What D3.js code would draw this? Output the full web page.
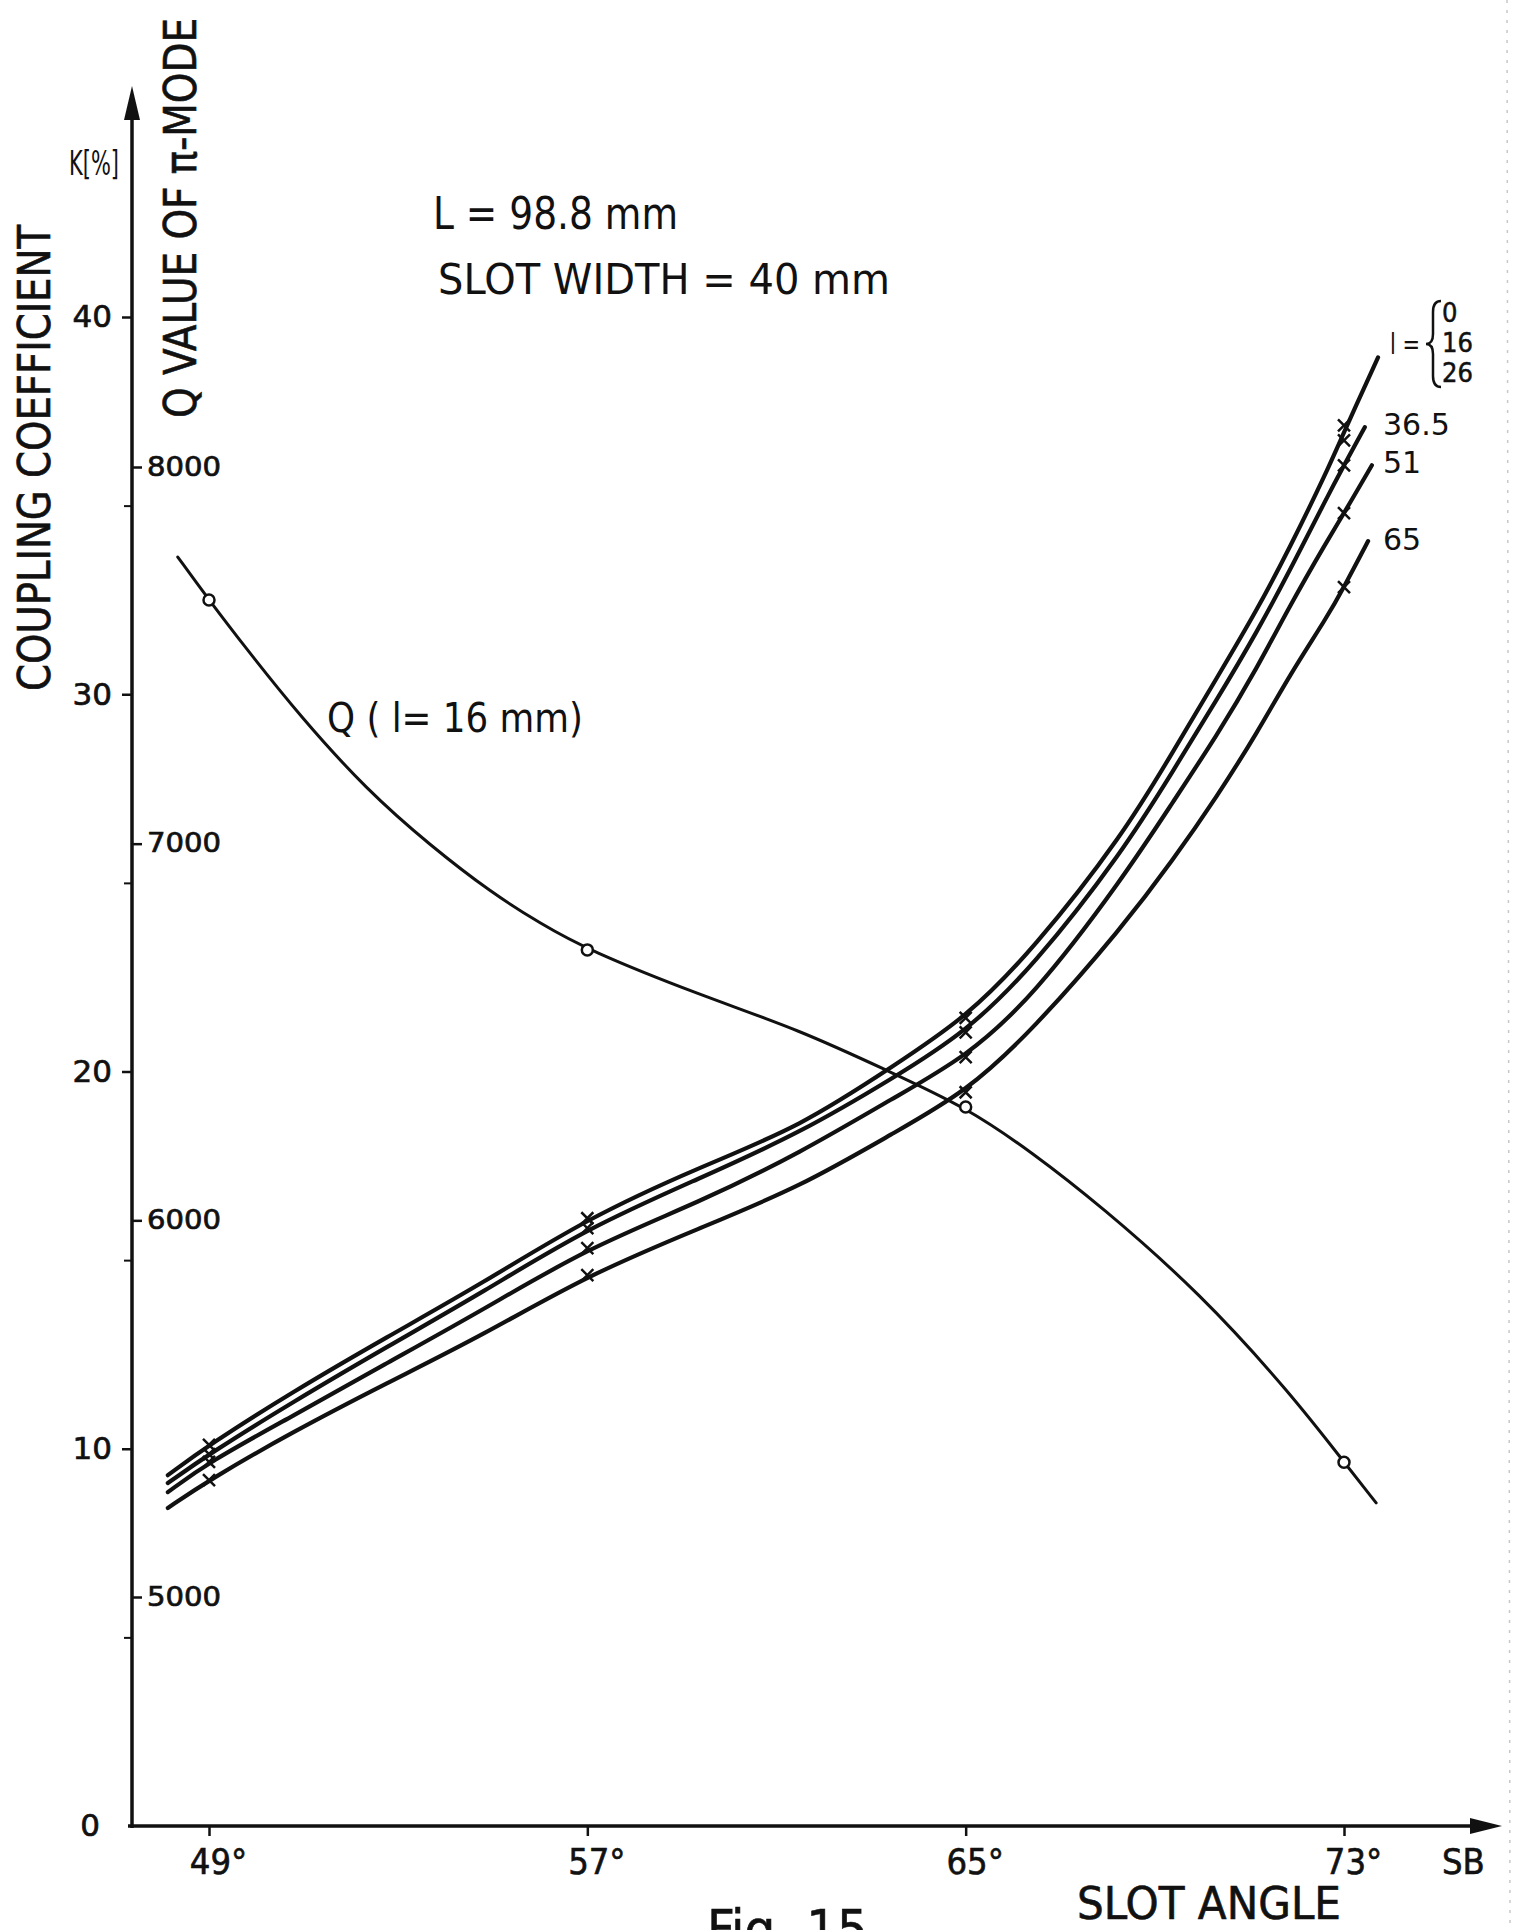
<!DOCTYPE html>
<html>
<head>
<meta charset="utf-8">
<script src="https://cdn.jsdelivr.net/npm/d3@7"></script>
<style>
  body { margin: 0; background: #fff; }
  text { fill: #111; }
</style>
</head>
<body>
<script>
var width = 1522,
    height = 1930;

// slot angles where points were measured
var markAngles = [49, 57, 65, 73];

// Q of pi-mode (l = 16 mm)
var qAngles = [48.34, 49, 49.78, 50.92, 52.34, 53.69, 54.98, 56.02, 57, 59.38, 61.5, 63.4, 65, 66.42, 67.84, 69.96, 71.9, 73, 73.68];
var qValues = [7761, 7647, 7519, 7339, 7142, 6994, 6869, 6787, 6718, 6598, 6505, 6394, 6301, 6179, 6040, 5807, 5536, 5358, 5250];
var qMarks = [7647, 6718, 6301, 5358];

// coupling coefficient K [%] for the slot lengths l
var kAngles = [48.13, 49, 50.73, 52.76, 54.79, 57, 59.38, 61.5, 63.5, 65, 66.42, 68.33, 69.38, 70.32, 71.16, 71.86, 72.64, 73];
var kA = [9.30, 10.10, 11.48, 12.96, 14.39, 16.11, 17.47, 18.53, 20.17, 21.42, 23.22, 26.27, 28.47, 30.45, 32.23, 33.90, 35.91, 36.95];
var kB = [9.09, 9.86, 11.21, 12.70, 14.15, 15.85, 17.17, 18.37, 19.85, 21.04, 22.77, 25.84, 27.96, 29.87, 31.65, 33.29, 35.22, 36.07];
var kC = [8.85, 9.65, 10.84, 12.27, 13.68, 15.32, 16.54, 17.84, 19.32, 20.38, 21.97, 25.13, 27.14, 28.92, 30.69, 32.36, 34.06, 34.80];
var kD = [8.43, 9.17, 10.42, 11.74, 13.01, 14.60, 15.85, 16.94, 18.39, 19.45, 21.10, 23.85, 25.60, 27.30, 28.97, 30.53, 32.04, 32.84];
var endAngles = [73.72, 73.44, 73.59, 73.51];
var endK = [38.93, 37.08, 36.07, 34.06];

var markA = [10.10, 16.11, 21.42, 37.13];
var markB = [9.86, 15.85, 21.04, 36.07];
var markC = [9.65, 15.32, 20.38, 34.80];
var markD = [9.17, 14.60, 19.45, 32.84];
var extraMark = [73, 36.73];

var kTicks = [0, 10, 20, 30, 40];
var kMinor = [5, 15, 25, 35];
var qTicks = [5000, 6000, 7000, 8000];
var angleTicks = [49, 57, 65, 73];

var braceNums = ["0", "16", "26"];
var sideLabels = ["36.5", "51", "65"];

var x = d3.scaleLinear().domain([49, 73]).range([209, 1344]);
var yK = d3.scaleLinear().domain([0, 40]).range([1826, 317]);
var yQ = d3.scaleLinear().domain([5000, 8000]).range([1597, 467]);

var axisX = 132, axisY = 1826;

var svg = d3.select("body")
            .append("svg")
            .attr("width", width)
            .attr("height", height);

svg.append("rect").attr("width", width).attr("height", height).attr("fill", "#fff");

var font = "'DejaVu Sans', sans-serif";
var condensed = "'DejaVu Sans Condensed', 'Liberation Sans Narrow', sans-serif";

// faint paper edge of the scan
svg.append("line")
   .attr("x1", 1507).attr("y1", 0)
   .attr("x2", 1510).attr("y2", height)
   .attr("stroke", "#c8c8c8").attr("stroke-width", 1.5)
   .attr("stroke-dasharray", "3,7");

// axes lines with arrows
svg.append("line")
   .attr("x1", axisX).attr("y1", axisY + 2)
   .attr("x2", axisX).attr("y2", 110)
   .attr("stroke", "#111").attr("stroke-width", 3.5);
svg.append("path")
   .attr("d", "M" + axisX + ",86 L" + (axisX - 8) + ",120 L" + (axisX + 8) + ",120 Z")
   .attr("fill", "#111");
svg.append("line")
   .attr("x1", axisX - 4).attr("y1", axisY)
   .attr("x2", 1480).attr("y2", axisY)
   .attr("stroke", "#111").attr("stroke-width", 3.5);
svg.append("path")
   .attr("d", "M1502," + axisY + " L1470," + (axisY - 8) + " L1470," + (axisY + 8) + " Z")
   .attr("fill", "#111");

// K axis (left)
var gK = svg.append("g")
   .attr("transform", "translate(" + axisX + ",0)")
   .call(d3.axisLeft(yK).tickValues(kTicks).tickSize(10).tickPadding(10).tickFormat(d3.format("d")));
gK.select(".domain").remove();
gK.selectAll("line").attr("stroke", "#111").attr("stroke-width", 2.5);
gK.selectAll("text").attr("font-family", font).attr("font-size", 31).attr("fill", "#111")
   .attr("stroke", "#111").attr("stroke-width", 0.7);
gK.selectAll(".tick").filter(function(d) { return d === 0; }).select("line").remove();
gK.selectAll(".tick").filter(function(d) { return d === 0; }).select("text").attr("dx", -12);

var gKm = svg.append("g")
   .attr("transform", "translate(" + axisX + ",0)")
   .call(d3.axisLeft(yK).tickValues(kMinor).tickSize(8).tickFormat(""));
gKm.select(".domain").remove();
gKm.selectAll("line").attr("stroke", "#111").attr("stroke-width", 2);

// Q axis (right side of the same line)
var gQ = svg.append("g")
   .attr("transform", "translate(" + axisX + ",0)")
   .call(d3.axisRight(yQ).tickValues(qTicks).tickSize(10).tickPadding(5).tickFormat(d3.format("d")));
gQ.select(".domain").remove();
gQ.selectAll("line").attr("stroke", "#111").attr("stroke-width", 2.5);
gQ.selectAll("text").attr("font-family", font).attr("font-size", 26).attr("fill", "#111")
   .attr("stroke", "#111").attr("stroke-width", 0.7)
   .attr("textLength", 74).attr("lengthAdjust", "spacingAndGlyphs");

// slot angle axis
var gX = svg.append("g")
   .attr("transform", "translate(0," + axisY + ")")
   .call(d3.axisBottom(x).tickValues(angleTicks).tickSize(10).tickPadding(12).tickFormat(function(d) { return d + "°"; }));
gX.select(".domain").remove();
gX.selectAll("line").attr("stroke", "#111").attr("stroke-width", 2.5);
gX.selectAll("text").attr("font-family", condensed).attr("font-size", 36).attr("fill", "#111")
   .attr("stroke", "#111").attr("stroke-width", 0.6)
   .attr("dx", "0.25em");

// curves
var line = d3.line()
   .x(function(d) { return x(d[0]); })
   .y(function(d) { return d[1]; })
   .curve(d3.curveBasis);

var kSeries = [kA, kB, kC, kD];
kSeries.forEach(function(vals, i) {
    var pts = kAngles.map(function(a, j) { return [a, yK(vals[j])]; });
    pts.push([endAngles[i], yK(endK[i])]);
    svg.append("path")
       .attr("d", line(pts))
       .attr("fill", "none")
       .attr("stroke", "#111")
       .attr("stroke-width", 4.2)
       .attr("stroke-linecap", "round");
});

var qPts = qAngles.map(function(a, j) { return [a, yQ(qValues[j])]; });
svg.append("path")
   .attr("d", line(qPts))
   .attr("fill", "none")
   .attr("stroke", "#111")
   .attr("stroke-width", 3)
   .attr("stroke-linecap", "round");

// cross markers
var marks = [];
[markA, markB, markC, markD].forEach(function(m) {
    m.forEach(function(v, j) { marks.push([markAngles[j], v]); });
});
marks.push(extraMark);

svg.selectAll("path.mark")
   .data(marks)
   .enter()
   .append("path")
   .attr("class", "mark")
   .attr("d", function(d) {
        var cx = x(d[0]), cy = yK(d[1]), s = 6;
        return "M" + (cx - s) + "," + (cy - s) + "L" + (cx + s) + "," + (cy + s) +
               "M" + (cx - s) + "," + (cy + s) + "L" + (cx + s) + "," + (cy - s);
   })
   .attr("stroke", "#111")
   .attr("stroke-width", 2.5);

svg.selectAll("circle.qmark")
   .data(qMarks)
   .enter()
   .append("circle")
   .attr("class", "qmark")
   .attr("cx", function(d, i) { return x(markAngles[i]); })
   .attr("cy", function(d) { return yQ(d); })
   .attr("r", 5.5)
   .attr("fill", "#fff")
   .attr("stroke", "#111")
   .attr("stroke-width", 2.5);

// axis titles
svg.append("text")
   .attr("transform", "translate(50,458) rotate(-90)")
   .attr("text-anchor", "middle")
   .attr("font-family", condensed)
   .attr("font-size", 44)
   .attr("stroke", "#111").attr("stroke-width", 0.6)
   .attr("textLength", 466).attr("lengthAdjust", "spacingAndGlyphs")
   .text("COUPLING COEFFICIENT");

svg.append("text")
   .attr("transform", "translate(196,218) rotate(-90)")
   .attr("text-anchor", "middle")
   .attr("font-family", condensed)
   .attr("font-size", 44)
   .attr("stroke", "#111").attr("stroke-width", 0.6)
   .attr("textLength", 400).attr("lengthAdjust", "spacingAndGlyphs")
   .text("Q VALUE OF π-MODE");

svg.append("text")
   .attr("x", 69).attr("y", 175)
   .attr("font-family", font)
   .attr("font-size", 33)
   .attr("textLength", 50).attr("lengthAdjust", "spacingAndGlyphs")
   .text("K[%]");

svg.append("text")
   .attr("x", 1442).attr("y", 1874)
   .attr("font-family", condensed)
   .attr("font-size", 36)
   .attr("stroke", "#111").attr("stroke-width", 0.6)
   .text("SB");

svg.append("text")
   .attr("x", 1077).attr("y", 1919)
   .attr("font-family", condensed)
   .attr("font-size", 44)
   .attr("stroke", "#111").attr("stroke-width", 0.6)
   .attr("textLength", 264).attr("lengthAdjust", "spacingAndGlyphs")
   .text("SLOT ANGLE");

svg.append("text")
   .attr("x", 707).attr("y", 1948)
   .attr("font-family", condensed)
   .attr("font-size", 54)
   .attr("stroke", "#111").attr("stroke-width", 0.6)
   .text("Fig. 15");

// annotations
svg.append("text")
   .attr("x", 433).attr("y", 229)
   .attr("font-family", font)
   .attr("font-size", 44)
   .attr("textLength", 245).attr("lengthAdjust", "spacingAndGlyphs")
   .text("L = 98.8 mm");

svg.append("text")
   .attr("x", 438).attr("y", 294)
   .attr("font-family", font)
   .attr("font-size", 42)
   .attr("textLength", 452).attr("lengthAdjust", "spacingAndGlyphs")
   .text("SLOT WIDTH = 40 mm");

svg.append("text")
   .attr("x", 327).attr("y", 732)
   .attr("font-family", font)
   .attr("font-size", 40)
   .attr("textLength", 256).attr("lengthAdjust", "spacingAndGlyphs")
   .text("Q ( l= 16 mm)");

// curve labels on the right
svg.append("text")
   .attr("x", 1390).attr("y", 354)
   .attr("font-family", font).attr("font-size", 28)
   .attr("textLength", 30).attr("lengthAdjust", "spacingAndGlyphs")
   .text("l =");
svg.append("path")
   .attr("d", "M1441,301 Q1433,301 1433,312 L1433,334 Q1433,344 1426,344 Q1433,344 1433,354 L1433,376 Q1433,387 1441,387")
   .attr("fill", "none")
   .attr("stroke", "#111")
   .attr("stroke-width", 2.5);
svg.selectAll("text.brace")
   .data(braceNums)
   .enter()
   .append("text")
   .attr("class", "brace")
   .attr("x", 1442)
   .attr("y", function(d, i) { return 322 + i * 30; })
   .attr("font-family", condensed)
   .attr("font-size", 27)
   .attr("stroke", "#111").attr("stroke-width", 0.5)
   .text(function(d) { return d; });

svg.selectAll("text.side")
   .data(sideLabels)
   .enter()
   .append("text")
   .attr("class", "side")
   .attr("x", 1383)
   .attr("y", function(d, i) { return [435, 473, 550][i]; })
   .attr("font-family", font)
   .attr("font-size", 30)
   .text(function(d) { return d; });
</script>
</body>
</html>
